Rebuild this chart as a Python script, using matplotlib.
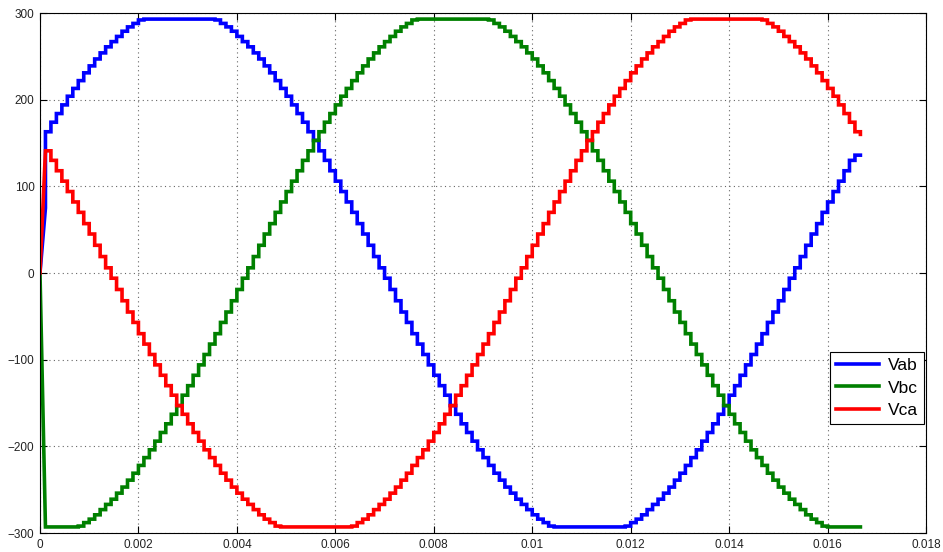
import numpy as np
import matplotlib
matplotlib.use('Agg')
import matplotlib.pyplot as plt
from matplotlib.ticker import FuncFormatter

plt.rcParams['font.family'] = ['Liberation Sans', 'DejaVu Sans']

# one cycle (60 Hz), 150 held samples, values
t_end = 0.016667
n_steps = 150

vab = [0,
       163, 174, 184, 194, 204, 213, 222, 231, 239, 247, 254, 261, 267, 273, 279, 284, 288, 292,
       293, 293, 293, 293, 293, 293, 293, 293, 293, 293, 293, 293, 293,
       292, 288, 284, 279, 273, 267, 261, 254, 247, 239, 231, 222, 213, 204, 194, 184, 174, 163,
       153, 141, 130, 118, 106, 94, 82, 70, 57, 45, 32, 19, 6,
       -6, -19, -32, -45, -57, -70, -82, -94, -106, -118, -130, -141, -153, -163, -174, -184,
       -194, -204, -213, -222, -231, -239, -247, -254, -261, -267, -273, -279, -284, -288, -292,
       -293, -293, -293, -293, -293, -293, -293, -293, -293, -293, -293, -293, -293,
       -292, -288, -284, -279, -273, -267, -261, -254, -247, -239, -231, -222, -213, -204, -194,
       -184, -174, -163, -153, -141, -130, -118, -106, -94, -82, -70, -57, -45, -32, -19, -6,
       6, 19, 32, 45, 57, 70, 82, 94, 106, 118, 130, 136,
       136]

vbc = [0,
       -293, -293, -293, -293, -293, -293,
       -292, -288, -284, -279, -273, -267, -261, -254, -247, -239, -231, -222, -213, -204, -194,
       -184, -174, -163, -153, -141, -130, -118, -106, -94, -82, -70, -57, -45, -32, -19, -6,
       6, 19, 32, 45, 57, 70, 82, 94, 106, 118, 130, 141,
       153, 163, 174, 184, 194, 204, 213, 222, 231, 239, 247, 254, 261, 267, 273, 279, 284, 288, 292,
       293, 293, 293, 293, 293, 293, 293, 293, 293, 293, 293, 293, 293,
       292, 288, 284, 279, 273, 267, 261, 254, 247, 239, 231, 222, 213, 204, 194, 184, 174, 163,
       153, 141, 130, 118, 106, 94, 82, 70, 57, 45, 32, 19, 6,
       -6, -19, -32, -45, -57, -70, -82, -94, -106, -118, -130, -141, -153, -163, -174, -184,
       -194, -204, -213, -222, -231, -239, -247, -254, -261, -267, -273, -279, -284, -288, -292,
       -293, -293, -293, -293, -293, -293,
       -293]

vca = [0,
       141, 130, 118, 106, 94, 82, 70, 57, 45, 32, 19, 6,
       -6, -19, -32, -45, -57, -70, -82, -94, -106, -118, -130, -141, -153, -163, -174, -184,
       -194, -204, -213, -222, -231, -239, -247, -254, -261, -267, -273, -279, -284, -288, -292,
       -293, -293, -293, -293, -293, -293, -293, -293, -293, -293, -293, -293, -293,
       -292, -288, -284, -279, -273, -267, -261, -254, -247, -239, -231, -222, -213, -204, -194,
       -184, -174, -163, -153, -141, -130, -118, -106, -94, -82, -70, -57, -45, -32, -19, -6,
       6, 19, 32, 45, 57, 70, 82, 94, 106, 118, 130, 141,
       153, 163, 174, 184, 194, 204, 213, 222, 231, 239, 247, 254, 261, 267, 273, 279, 284, 288, 292,
       293, 293, 293, 293, 293, 293, 293, 293, 293, 293, 293, 293, 293,
       292, 288, 284, 279, 273, 267, 261, 254, 247, 239, 231, 222, 213, 204, 194, 184, 174, 163,
       160]

# value reached by the first (linear) segment before the first hold
ramp_end = {'Vab': 75, 'Vbc': -293, 'Vca': 140}

names = ['Vab', 'Vbc', 'Vca']
colors = ['#0000ff', '#008000', '#ff0000']

x_ticks = [0, 0.002, 0.004, 0.006, 0.008, 0.01, 0.012, 0.014, 0.016, 0.018]
y_ticks = [-300, -200, -100, 0, 100, 200, 300]


def stair(t, v, ramp):
    # linear ramp to first sample, then zero-order hold
    v = np.asarray(v, dtype=float)
    x = np.r_[t[0], np.repeat(t[1:], 2)]
    y = np.r_[v[0], ramp, v[1], np.column_stack([v[1:-1], v[2:]]).ravel()]
    return x, y


t = np.linspace(0, t_end, n_steps + 1)

fig = plt.figure(figsize=(9.43, 5.52), dpi=100)
ax = fig.add_axes([0.0424, 0.0344, 0.9396, 0.942])

for name, vals, c in zip(names, [vab, vbc, vca], colors):
    x, y = stair(t, vals, ramp_end[name])
    ax.plot(x, y, color=c, lw=2.6, label=name, solid_joinstyle='miter')

ax.set_xlim(0, 0.018)
ax.set_ylim(-300, 300)
ax.set_xticks(x_ticks)
ax.set_yticks(y_ticks)
ax.xaxis.set_major_formatter(FuncFormatter(lambda v, p: '%g' % v))
ax.grid(True, linestyle=(0, (1, 3)), color='#666666', lw=0.8)
ax.tick_params(direction='in', top=True, right=True, length=5, labelsize=8.5, pad=4,
               labelcolor='#222222')
for s in ax.spines.values():
    s.set_linewidth(0.8)

leg = ax.legend(loc='center right', bbox_to_anchor=(1.0, 0.279), borderaxespad=0.1,
                fontsize=12.5, fancybox=False, framealpha=1, edgecolor='black',
                handlelength=2.5, labelspacing=0.4, borderpad=0.35, handletextpad=0.5)
leg.get_frame().set_linewidth(0.8)

fig.savefig('out.png', dpi=100)
